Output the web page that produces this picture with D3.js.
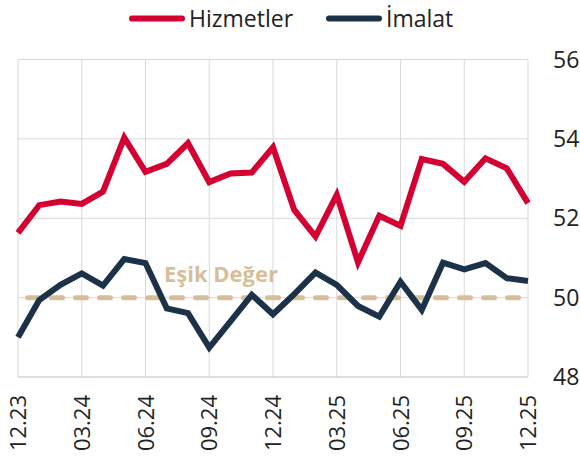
<!DOCTYPE html>
<html>
<head>
<meta charset="utf-8">
<script src="https://cdn.jsdelivr.net/npm/d3@7"></script>
<style>
  body { margin: 0; background: #fff; }
  svg { display: block; font-family: "Open Sans", sans-serif; }
</style>
</head>
<body>
<svg id="chart" width="580" height="461"></svg>
<script>
// monthly labels 12.23 .. 12.25
var months = ["12.23","01.24","02.24","03.24","04.24","05.24","06.24","07.24","08.24","09.24","10.24","11.24",
              "12.24","01.25","02.25","03.25","04.25","05.25","06.25","07.25","08.25","09.25","10.25","11.25","12.25"];
var hizmetler = [51.63, 52.33, 52.42, 52.36, 52.67, 54.03, 53.17, 53.37, 53.89, 52.91, 53.13, 53.15,
                 53.79, 52.21, 51.54, 52.59, 50.89, 52.06, 51.81, 53.49, 53.37, 52.92, 53.51, 53.26, 52.38];
var imalat = [49.00, 49.94, 50.32, 50.61, 50.30, 50.97, 50.87, 49.73, 49.61, 48.74, 49.40, 50.07,
              49.58, 50.09, 50.63, 50.32, 49.79, 49.52, 50.40, 49.69, 50.88, 50.71, 50.87, 50.49, 50.42];
var xTicks = ["12.23","03.24","06.24","09.24","12.24","03.25","06.25","09.25","12.25"];
var yTicks = [48, 50, 52, 54, 56];
var esik = 50;

var red = "#d50032", navy = "#1c3249", tan = "#d6bf98";

var svg = d3.select("#chart");

var x = d3.scalePoint().domain(months).range([18, 528]);
var y = d3.scaleLinear().domain([48, 56]).range([377, 59.5]);

// grid
var grid = svg.append("g");
grid.selectAll(".vg").data(xTicks).enter().append("line")
    .attr("x1", function (d) { return x(d); }).attr("x2", function (d) { return x(d); })
    .attr("y1", y(56)).attr("y2", y(48))
    .attr("stroke", "#d9d9d9").attr("stroke-width", 1);
grid.selectAll(".hg").data(yTicks).enter().append("line")
    .attr("x1", x(months[0])).attr("x2", x(months[months.length - 1]))
    .attr("y1", function (d) { return y(d); }).attr("y2", function (d) { return y(d); })
    .attr("stroke", function (d) { return d == 48 ? "#bfbfbf" : "#d9d9d9"; })
    .attr("stroke-width", 1);

// right axis labels
svg.append("g").selectAll("text").data(yTicks).enter().append("text")
    .attr("x", 553).attr("y", function (d) { return y(d) + 8; })
    .attr("font-size", 23).attr("fill", "#222")
    .text(function (d) { return d; });

// x labels, rotated
svg.append("g").selectAll("text").data(xTicks).enter().append("text")
    .attr("transform", function (d) { return "translate(" + (x(d) + 8) + ",395) rotate(-90)"; })
    .attr("text-anchor", "end")
    .attr("font-size", 22).attr("fill", "#222")
    .text(function (d) { return d; });

// threshold
svg.append("line")
    .attr("x1", x(months[0])).attr("x2", x(months[months.length - 1]))
    .attr("y1", y(esik)).attr("y2", y(esik))
    .attr("stroke", tan).attr("stroke-width", 5)
    .attr("stroke-linecap", "round")
    .attr("stroke-dasharray", "11 13").attr("stroke-dashoffset", 14.5);

svg.append("text")
    .attr("x", 221).attr("y", 282)
    .attr("text-anchor", "middle")
    .attr("font-size", 22).attr("font-weight", "bold").attr("fill", tan)
    .text("Eşik Değer");

var line = d3.line()
    .x(function (d, i) { return x(months[i]); })
    .y(function (d) { return y(d); });

svg.append("path").datum(imalat)
    .attr("d", line).attr("fill", "none")
    .attr("stroke", navy).attr("stroke-width", 6);

svg.append("path").datum(hizmetler)
    .attr("d", line).attr("fill", "none")
    .attr("stroke", red).attr("stroke-width", 6);

// legend
var legend = [{name: "Hizmetler", color: red, x: 129}, {name: "İmalat", color: navy, x: 326}];
var lg = svg.append("g").selectAll("g").data(legend).enter().append("g");
lg.append("line")
    .attr("x1", function (d) { return d.x + 3; }).attr("x2", function (d) { return d.x + 53; })
    .attr("y1", 18.5).attr("y2", 18.5)
    .attr("stroke", function (d) { return d.color; })
    .attr("stroke-width", 6).attr("stroke-linecap", "round");
lg.append("text")
    .attr("x", function (d) { return d.x + 60; }).attr("y", 27)
    .attr("font-size", 23).attr("fill", "#222")
    .text(function (d) { return d.name; });
</script>
</body>
</html>
